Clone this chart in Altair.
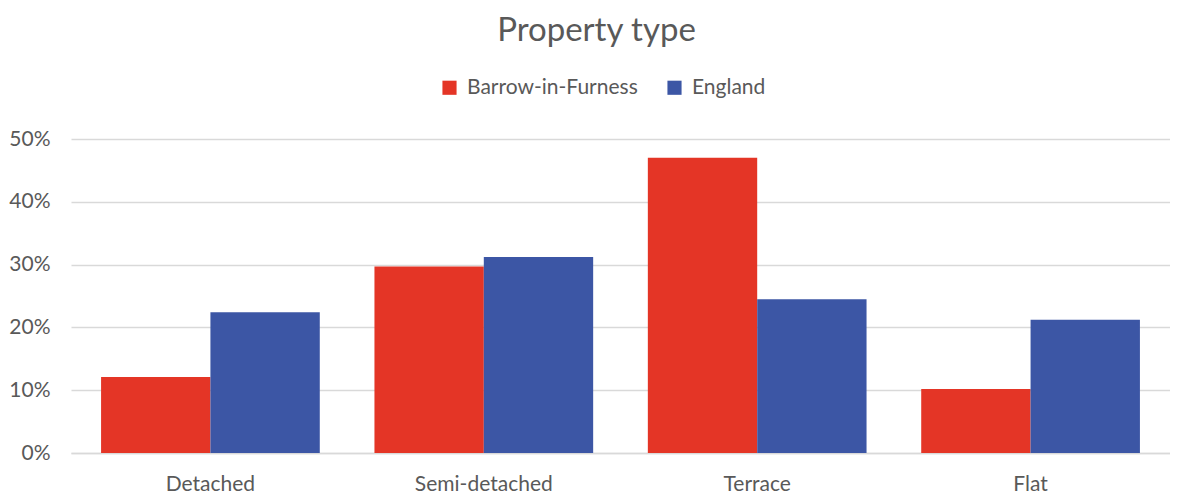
import altair as alt
import pandas as pd

categories = ["Detached", "Semi-detached", "Terrace", "Flat"]
barrow = [0.121, 0.297, 0.470, 0.102]
england = [0.224, 0.312, 0.245, 0.212]
series = ["Barrow-in-Furness", "England"]

rows = []
for c, b, e in zip(categories, barrow, england):
    rows.append({"cat": c, "series": series[0], "value": b})
    rows.append({"cat": c, "series": series[1], "value": e})
df = pd.DataFrame(rows)

FONT = "Lato"
GREY = "#595959"
FS = 21

chart = alt.Chart(df).mark_bar().encode(
    x=alt.X("cat:N", sort=categories, title=None,
            scale=alt.Scale(paddingInner=0.2, paddingOuter=0.11),
            axis=alt.Axis(labelAngle=0, labelFontSize=FS, labelColor=GREY, labelFont=FONT,
                          ticks=False, domainColor="#D9D9D9", domainWidth=1.5, labelPadding=20)),
    xOffset=alt.XOffset("series:N", sort=series, scale=alt.Scale(paddingInner=0, paddingOuter=0)),
    y=alt.Y("value:Q", title=None,
            scale=alt.Scale(domain=[0, 0.5], nice=False),
            axis=alt.Axis(format=".0%", values=[0, 0.1, 0.2, 0.3, 0.4, 0.5], labelFontSize=FS,
                          labelColor=GREY, labelFont=FONT, ticks=False, domain=False,
                          gridColor="#D9D9D9", gridWidth=1.5, labelPadding=21)),
    color=alt.Color("series:N", sort=series,
                    scale=alt.Scale(domain=series, range=["#E43526", "#3C56A5"]),
                    legend=alt.Legend(title=None, orient="none", legendX=368, legendY=-62,
                                      direction="horizontal", symbolType="square", symbolSize=200,
                                      symbolStrokeWidth=0, labelFontSize=FS, labelColor=GREY,
                                      labelFont=FONT, columnPadding=26, labelOffset=7,
                                      labelLimit=0)),
).properties(
    width=1099, height=314,
    title=alt.TitleParams("Property type", fontSize=33, color=GREY, font=FONT,
                          fontWeight="normal", offset=29, dx=-24, limit=0),
    autosize=alt.AutoSizeParams(type="none"),
    padding={"left": 63, "top": 131, "right": 0, "bottom": 44},
).configure_view(stroke=None)

chart.save("out.html", embed_options={"renderer": "svg", "actions": False})
